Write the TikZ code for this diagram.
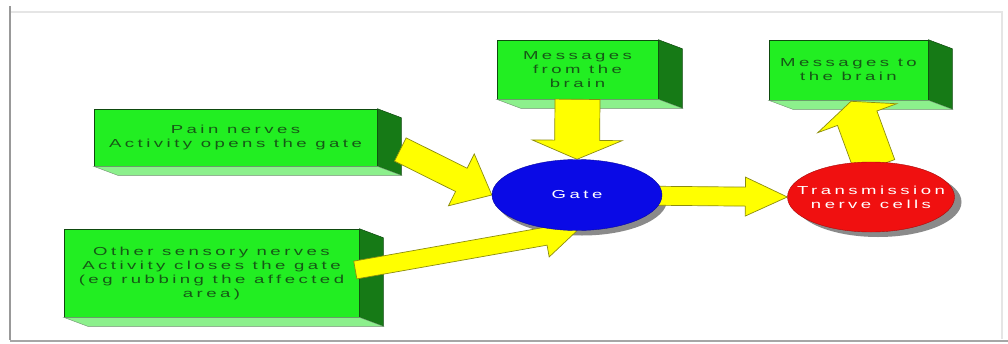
\documentclass[tikz,border=0pt]{standalone}
\usepackage{fontspec}
\usetikzlibrary{calc,shapes.geometric}
\newfontfamily\labelfont[FakeStretch=1.6,LetterSpace=30]{Liberation Sans}
\definecolor{slabfront}{HTML}{22EE22}
\definecolor{slabside}{HTML}{167A16}
\definecolor{slabbottom}{HTML}{8CF08C}
\definecolor{slabedge}{HTML}{0E4A0E}
\definecolor{slabtext}{HTML}{165816}
\definecolor{arrowfill}{HTML}{FFFF00}
\definecolor{arrowedge}{HTML}{8C8C10}
\definecolor{gatefill}{HTML}{0A0AE6}
\definecolor{cellfill}{HTML}{F01010}
\definecolor{shadowgray}{HTML}{8A8A8A}
\pgfdeclarelayer{back}
\pgfdeclarelayer{mid}
\pgfsetlayers{back,mid,main}
% block arrow: from, to, half shaft width, half head width, head length
\newcommand\blockarrow[5]{%
  \filldraw[bigarrow]
    ($(#1)!#3!90:(#2)$)
    -- ($(#2)!#5!(#1)!#3!-90:(#1)$)
    -- ($(#2)!#5!(#1)!#4!-90:(#1)$)
    -- (#2)
    -- ($(#2)!#5!(#1)!#4!90:(#1)$)
    -- ($(#2)!#5!(#1)!#3!90:(#1)$)
    -- ($(#1)!#3!-90:(#2)$) -- cycle;}
% side and bottom faces of a slab
\newcommand\slabfaces[1]{%
  \filldraw[fill=slabside,draw=slabedge,line width=0.5pt]
    (#1.north east) -- ++(24,9) -- ($(#1.south east)+(24,9)$) -- (#1.south east) -- cycle;
  \filldraw[fill=slabbottom,draw=slabedge!60,line width=0.4pt]
    (#1.south west) -- ++(24,9) -- ($(#1.south east)+(24,9)$) -- (#1.south east) -- cycle;}
\begin{document}
\begin{tikzpicture}[x=1pt,y=-1pt,
  slab/.style={draw=slabedge, line width=0.6pt, fill=slabfront, inner sep=0pt,
    align=center, text=slabtext, font=\labelfont\fontsize{11.6}{14}\selectfont},
  oval/.style={ellipse, inner sep=0pt},
  ovaltext/.style={align=center, text=white, inner sep=0pt,
    font=\labelfont\fontsize{11.6}{14}\selectfont},
  bigarrow/.style={fill=arrowfill, draw=arrowedge, line width=0.7pt, line join=miter}]
\useasboundingbox (0,0) rectangle (1008,343);

\begin{pgfonlayer}{back}
\fill[white] (0,0) rectangle (1008,343);
% page frame
\draw[black!10, line width=1.5pt] (11,12) -- (1002,12) -- (1002,339);
\draw[black!40, line width=2.5pt] (10,6) -- (10,340);
\draw[black!35, line width=2pt] (10,340.5) -- (1008,340.5);

\node[slab, minimum width=283pt, minimum height=57pt] (pain) at (235.5,137.5)
  {Pain nerves\\Activity opens the gate};
\slabfaces{pain}
\node[slab, minimum width=295pt, minimum height=88pt] (other) at (211.5,273)
  {Other sensory nerves\\Activity closes the gate\\(eg rubbing the affected\\area)};
\slabfaces{other}
\node[slab, minimum width=161pt, minimum height=59pt] (from) at (577.5,69.5)
  {Messages\\from the\\brain};
\slabfaces{from}
\node[slab, minimum width=159pt, minimum height=60pt] (to) at (848.5,70)
  {Messages to\\the brain};
\slabfaces{to}
\end{pgfonlayer}

\node[oval, fill=gatefill, draw=gatefill!70!black, minimum width=170pt, minimum height=71pt,
  label={[ovaltext]center:Gate}] (gate) at (577,195) {};
\node[oval, fill=cellfill, draw=cellfill!70!black, minimum width=167pt, minimum height=70pt,
  label={[ovaltext]center:Transmission\\nerve cells}] (cells) at (871,197) {};

\coordinate (painout) at ($(pain.east)+(23,12)$);
\coordinate (otherout) at ($(other.east)+(-4,-3)$);
\coordinate (cellsout) at ($(cells.north)+(4,5)$);
\coordinate (toin) at ($(to.south)+(2.5,1)$);

\begin{pgfonlayer}{mid}
\fill[shadowgray] ($(gate.center)+(5,5)$) ellipse (85 and 35.5);
\fill[shadowgray] ($(cells.center)+(7,5)$) ellipse (83.5 and 35);
\blockarrow{painout}{gate.west}{13pt}{29pt}{34pt}
\blockarrow{otherout}{gate.south}{9pt}{21pt}{32pt}
\blockarrow{from.south}{gate.north}{22.5pt}{45pt}{19pt}
\blockarrow{gate.center}{cells.west}{9.5pt}{19.5pt}{42pt}
\blockarrow{cellsout}{toin}{21pt}{42pt}{18pt}
\end{pgfonlayer}
\end{tikzpicture}
\end{document}
